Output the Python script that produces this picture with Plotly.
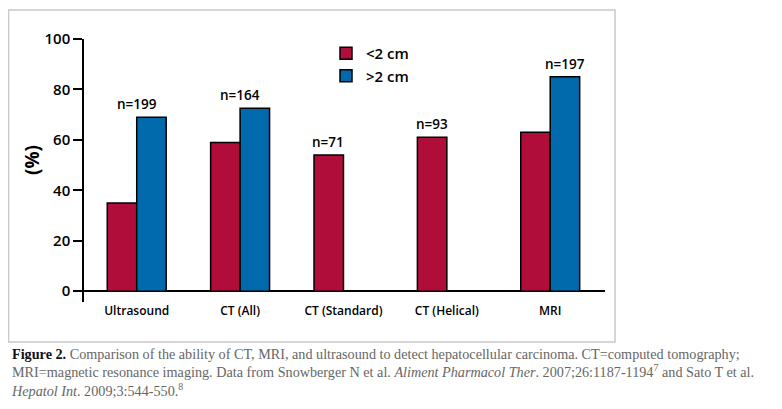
import plotly.graph_objects as go

categories = ["Ultrasound", "CT (All)", "CT (Standard)", "CT (Helical)", "MRI"]
small_lt2 = [35, 59, 54, 61, 63]
large_gt2 = [69, 72.5, None, None, 85]
n_labels = ["n=199", "n=164", "n=71", "n=93", "n=197"]
y_ticks = [0, 20, 40, 60, 80, 100]

RED = "#B10D3A"
BLUE = "#006AAD"
FONT = "Open Sans"

# page body has an 8px margin; figure is placed at (8, 8)
OFF = 8
W, H = 782 - OFF, 409 - OFF
# plot area in page pixels: x 84..605, y 39..302
PL, PR, PT, PB = 84, 605, 39, 302
L, R, T, B = PL - OFF, W - (PR - OFF), PT - OFF, H - (PB - OFF)
pw, ph = PR - PL, PB - PT

def px(x):
    return (x - PL) / pw

def py(y):
    return (PB - y) / ph

fig = go.Figure()
fig.add_trace(go.Bar(x=categories, y=small_lt2, name="<2 cm",
                     marker=dict(color=RED, line=dict(color="black", width=1.5))))
fig.add_trace(go.Bar(x=categories, y=large_gt2, name=">2 cm",
                     marker=dict(color=BLUE, line=dict(color="black", width=1.5))))

# n labels: over group centre or over a single bar
label_shift = [0, 0, -15, -15, 15]
for cat, a, b, lab, sh in zip(categories, small_lt2, large_gt2, n_labels, label_shift):
    top = max(v for v in (a, b) if v is not None)
    fig.add_annotation(x=cat, y=top, text=lab, showarrow=False, xshift=sh,
                       yanchor="bottom", yshift=2,
                       font=dict(family=FONT, size=13.5, color="black", weight=600))

# frame
fig.add_shape(type="rect", xref="paper", yref="paper",
              x0=px(8.5), x1=px(615), y0=py(342), y1=py(10),
              line=dict(color="#c8c8c8", width=1.5), fillcolor="rgba(0,0,0,0)", layer="below")

# y title
fig.add_annotation(xref="paper", yref="paper", x=px(32), y=py(160), text="(%)",
                   xanchor="center", yanchor="middle",
                   textangle=-90, showarrow=False,
                   font=dict(family=FONT, size=19, color="black", weight=700))

# caption
cap_font = dict(family="Liberation Serif", size=14.2, color="#666666")
cap_text = (
    "<span style='color:#111111'><b>Figure 2.</b></span> Comparison of the ability of CT, MRI, and ultrasound to detect hepatocellular carcinoma. CT=computed tomography;"
    "<br>MRI=magnetic resonance imaging. Data from Snowberger N et al. <i>Aliment Pharmacol Ther</i>. 2007;26:1187-1194<sup>7</sup> and Sato T et al."
    "<br><i>Hepatol Int</i>. 2009;3:544-550.<sup>8</sup>"
)
fig.add_annotation(xref="paper", yref="paper", x=px(9), y=py(372),
                   xanchor="left", yanchor="middle", text=cap_text, showarrow=False,
                   font=cap_font, align="left")

fig.update_layout(
    width=W, height=H,
    margin=dict(l=L, r=R, t=T, b=B),
    paper_bgcolor="white", plot_bgcolor="white",
    barmode="group", bargap=0.43, bargroupgap=0,
    showlegend=True,
    legend=dict(x=px(326), y=py(37), xanchor="left", yanchor="top",
                font=dict(family=FONT, size=15, color="black", weight=600),
                bgcolor="rgba(0,0,0,0)", tracegroupgap=0),
    xaxis=dict(range=[-0.51, 4.53], showline=False, ticks="", showgrid=False,
               zeroline=False,
               tickfont=dict(family=FONT, size=12, color="black", weight=600)),
    yaxis=dict(range=[-4.3, 100], tickvals=y_ticks, showline=True, linecolor="black",
               linewidth=1.5, ticks="outside", ticklen=9, tickwidth=1.5, tickcolor="black",
               showgrid=False, zeroline=True, zerolinecolor="black", zerolinewidth=1.5,
               tickfont=dict(family=FONT, size=15, color="black", weight=600)),
)

fig.write_html("out.html")
